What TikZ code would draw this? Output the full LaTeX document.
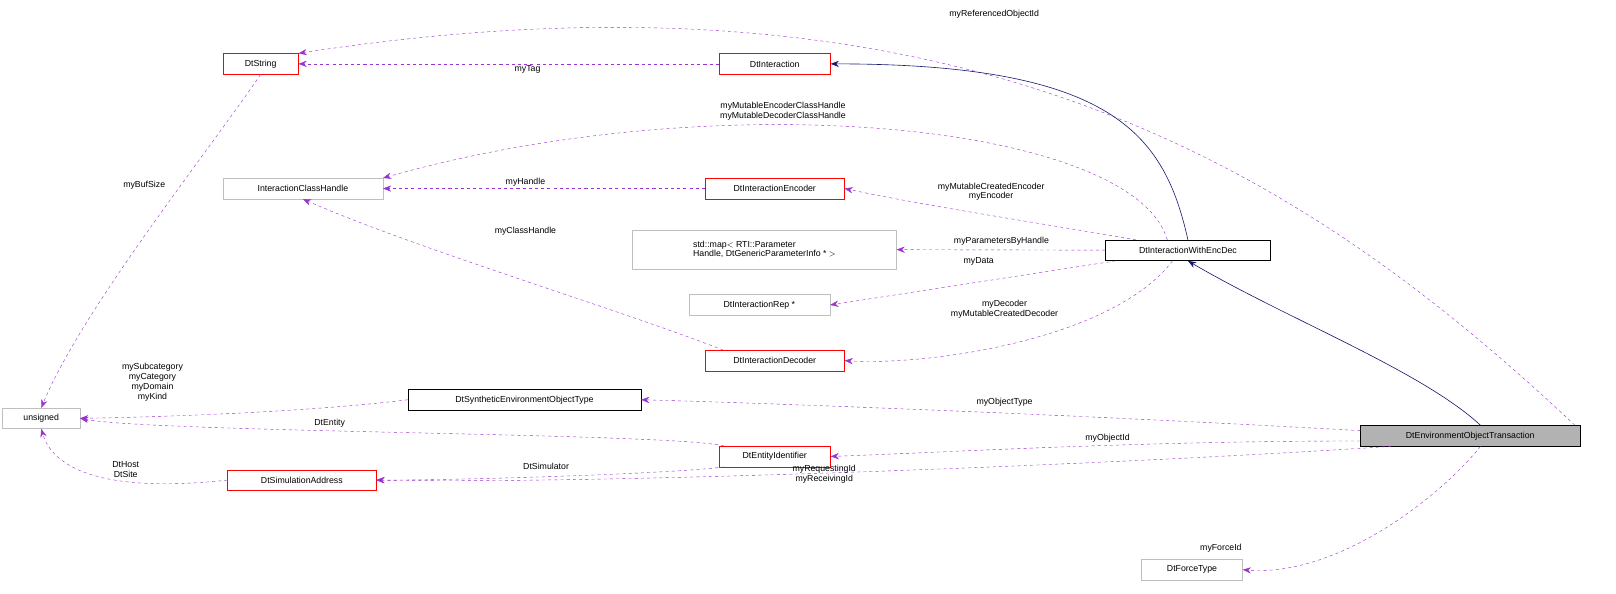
\documentclass[tikz,border=0pt]{standalone}
\usepackage{fontspec}
\setmainfont{Liberation Sans}
\usetikzlibrary{arrows.meta}
\definecolor{dpurple}{RGB}{154,50,205}
\definecolor{mblue}{RGB}{25,25,112}
\begin{document}
\begin{tikzpicture}[x=1pt,y=-1pt,
 every node/.style={font=\fontsize{8.5}{9.5}\selectfont},
 box/.style={draw=#1,fill=white,minimum height=20pt,inner sep=3pt,align=center},
 lab/.style={align=center,inner sep=0pt},
 dep/.style={draw=dpurple,dashed,-{Stealth[length=8pt,width=6pt]}},
 inh/.style={draw=mblue,semithick,-{Stealth[length=8pt,width=6pt]}}]
\node[box=red,minimum width=73pt] (str) at (253,62) {DtString};
\node[box=red,minimum width=108pt] (int) at (752,62) {DtInteraction};
\node[box=gray!50,minimum width=155pt] (ich) at (294,183) {InteractionClassHandle};
\node[box=red,minimum width=135pt] (enc) at (752,183) {DtInteractionEncoder};
\node[box=gray!50,minimum width=256pt,align=left,minimum height=38pt] (map) at (742,242) {std::map$<$ RTI::Parameter\\Handle, DtGenericParameterInfo * $>$};
\node[box=black,minimum width=160pt] (wed) at (1153,243) {DtInteractionWithEncDec};
\node[box=gray!50,minimum width=137pt] (rep) at (737,296) {DtInteractionRep *};
\node[box=red,minimum width=135pt] (dec) at (752,350) {DtInteractionDecoder};
\node[box=gray!50,minimum width=75pt] (uns) at (40,406) {unsigned};
\node[box=black,minimum width=226pt] (seot) at (509,388) {DtSyntheticEnvironmentObjectType};
\node[box=red,minimum width=108pt] (eid) at (752,443) {DtEntityIdentifier};
\node[box=red,minimum width=144pt] (sim) at (293,466) {DtSimulationAddress};
\node[box=black,fill=gray!60,minimum width=213pt] (eot) at (1427,423) {DtEnvironmentObjectTransaction};
\node[box=gray!50,minimum width=98pt] (force) at (1157,553) {DtForceType};

\draw[dep] (eot.north east) ++(-5,0) .. controls (1280,180) and (950,-50) .. (str.north east);
\draw[dep] (int) -- (str);
\draw[inh] (wed.north) .. controls (1130,130) and (1080,62) .. (int.east);
\draw[dep] (wed.north) ++(-20,0) .. controls (1100,120) and (700,80) .. (ich.north east);
\draw[dep] (enc) -- (ich);
\draw[dep] (wed.north west) ++(30,0) .. controls (1000,215) and (900,200) .. (enc.east);
\draw[dep] (wed) -- (map);
\draw[dep] (wed.south west) ++(10,0) -- (rep.east);
\draw[dep] (wed.south) ++(-15,0) .. controls (1080,330) and (900,355) .. (dec.east);
\draw[dep] (dec.north) ++(-50,0) .. controls (600,300) and (400,240) .. (ich.south);
\draw[dep] (str.south) .. controls (200,150) and (80,300) .. (uns.north);
\draw[dep] (seot.west) .. controls (300,400) and (150,405) .. (uns.east);
\draw[dep] (eid.north west) ++(5,0) .. controls (650,420) and (150,420) .. (uns.east);
\draw[dep] (sim.west) .. controls (90,480) and (50,450) .. (uns.south);
\draw[dep] (eid.south west) ++(5,0) .. controls (650,460) and (450,466) .. (sim.east);
\draw[dep] (eot.west) ++(0,-5) .. controls (1000,400) and (700,390) .. (seot.east);
\draw[dep] (eot.west) ++(0,5) .. controls (1100,428) and (900,440) .. (eid.east);
\draw[dep] (eot.south west) ++(30,0) .. controls (1100,450) and (600,470) .. (sim.east);
\draw[dep] (eot.south) ++(10,0) .. controls (1400,480) and (1300,560) .. (force.east);
\draw[inh] (eot.north) ++(10,0) .. controls (1380,360) and (1250,310) .. (wed.south);

\node[lab] at (965,14) {myReferencedObjectId};
\node[lab] at (512,67) {myTag};
\node[lab] at (510,177) {myHandle};
\node[lab] at (760,108) {myMutableEncoderClassHandle\\myMutableDecoderClassHandle};
\node[lab] at (962,186) {myMutableCreatedEncoder\\myEncoder};
\node[lab] at (972,234) {myParametersByHandle};
\node[lab] at (950,254) {myData};
\node[lab] at (975,300) {myDecoder\\myMutableCreatedDecoder};
\node[lab] at (510,224) {myClassHandle};
\node[lab] at (140,180) {myBufSize};
\node[lab] at (148,371) {mySubcategory\\myCategory\\myDomain\\myKind};
\node[lab] at (320,411) {DtEntity};
\node[lab] at (122,456) {DtHost\\DtSite};
\node[lab] at (530,453) {DtSimulator};
\node[lab] at (975,390) {myObjectType};
\node[lab] at (1075,425) {myObjectId};
\node[lab] at (800,460) {myRequestingId\\myReceivingId};
\node[lab] at (1185,532) {myForceId};
\pgfresetboundingbox
\useasboundingbox (0,0) rectangle (1568.5,575.6);
\end{tikzpicture}
\end{document}
